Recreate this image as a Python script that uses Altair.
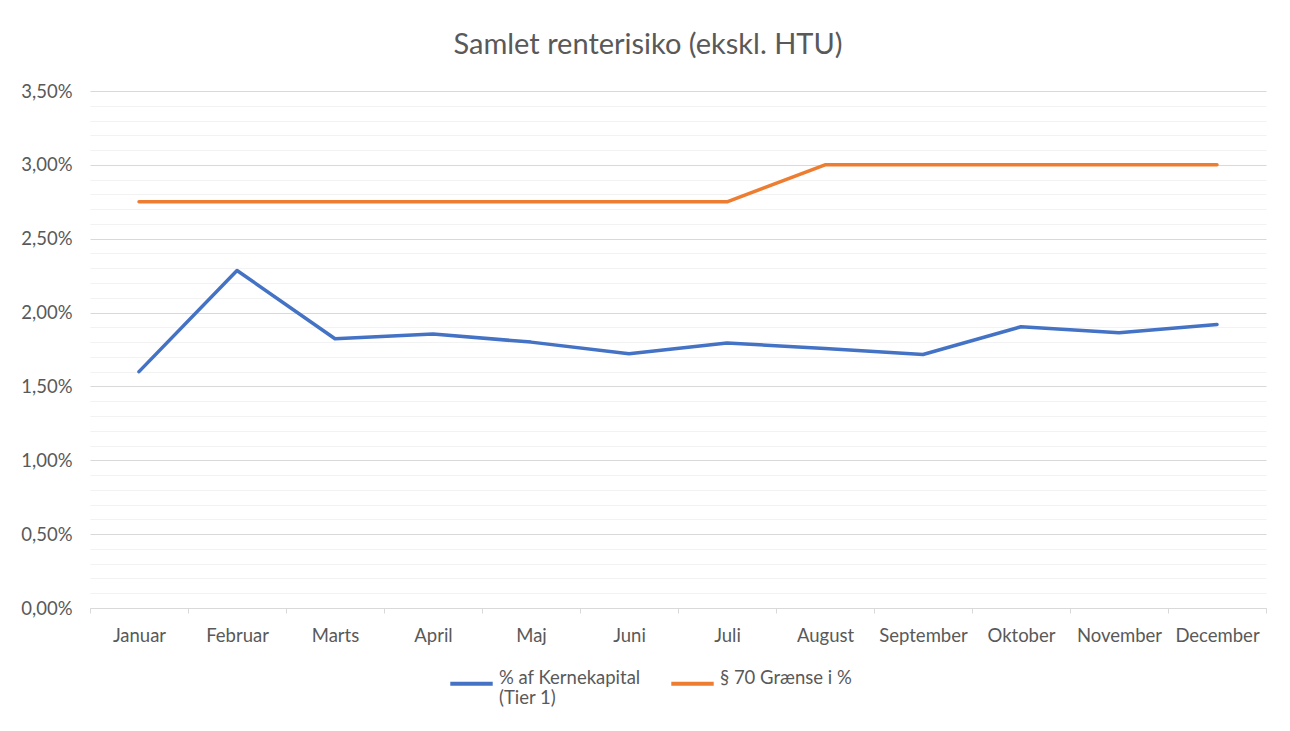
import altair as alt
import pandas as pd

months = ["Januar", "Februar", "Marts", "April", "Maj", "Juni", "Juli",
          "August", "September", "Oktober", "November", "December"]
kernekapital = [0.0160, 0.02285, 0.01823, 0.01855, 0.0180, 0.01721, 0.01794,
                0.01757, 0.01716, 0.01904, 0.01863, 0.0192]
graense = [0.0275, 0.0275, 0.0275, 0.0275, 0.0275, 0.0275, 0.0275,
           0.0300, 0.0300, 0.0300, 0.0300, 0.0300]
series_names = ["% af Kernekapital (Tier 1)", "§ 70 Grænse i %"]
series_colors = ["#4472C4", "#ED7D31"]
y_ticks = [i / 1000 for i in range(0, 36)]

rows = []
for m, a, b in zip(months, kernekapital, graense):
    rows.append({"month": m, "series": series_names[0], "value": a})
    rows.append({"month": m, "series": series_names[1], "value": b})
df = pd.DataFrame(rows)

FONT = "Lato"
GREY = "#595959"
FS = 18.5

chart = alt.Chart(df).mark_line(strokeWidth=3.5, strokeCap="round", strokeJoin="round").encode(
    x=alt.X("month:N", sort=months, bandPosition=0.5,
            scale=alt.Scale(type="band", paddingInner=0, paddingOuter=0),
            axis=alt.Axis(title=None, labelAngle=0, tickBand="extent", grid=False,
                          domainColor="#D9D9D9", tickColor="#D9D9D9", tickSize=5,
                          labelColor=GREY, labelFontSize=FS, labelFont=FONT,
                          labelPadding=13)),
    y=alt.Y("value:Q", scale=alt.Scale(domain=[0, 0.035], nice=False, zero=True),
            axis=alt.Axis(title=None, values=y_ticks, domain=False, ticks=False,
                          gridColor={"condition": {"test": "round(datum.value*1000) % 5 == 0",
                                                    "value": "#D9D9D9"},
                                     "value": "#F2F2F2"},
                          gridWidth=1.2,
                          labelExpr="round(datum.value*1000) % 5 == 0 ? replace(format(datum.value, '.2%'), '.', ',') : ''",
                          labelColor=GREY, labelFontSize=FS, labelFont=FONT,
                          labelPadding=18)),
    color=alt.Color("series:N", sort=series_names,
                    scale=alt.Scale(domain=series_names, range=series_colors),
                    legend=alt.Legend(title=None, orient="none", direction="horizontal",
                                      legendX=358, legendY=569,
                                      symbolType="stroke", symbolSize=1800,
                                      symbolStrokeWidth=4, columnPadding=22,
                                      labelFont=FONT, labelFontSize=FS, labelColor=GREY,
                                      labelBaseline="alphabetic", labelOffset=4,
                                      labelExpr="datum.label == '% af Kernekapital (Tier 1)' ? ['% af Kernekapital', '(Tier 1)'] : [datum.label, ' ']")),
).properties(
    width=1176,
    height=517,
    title=alt.TitleParams("Samlet renterisiko (ekskl. HTU)", font=FONT, fontSize=29,
                          fontWeight="normal", color=GREY, dx=-30, offset=22),
    autosize=alt.AutoSizeParams(type="none"),
    padding={"left": 82, "top": 83, "right": 16, "bottom": 120},
).configure_view(stroke=None)

chart.save("out.html", embed_options={"renderer": "svg", "actions": False})
